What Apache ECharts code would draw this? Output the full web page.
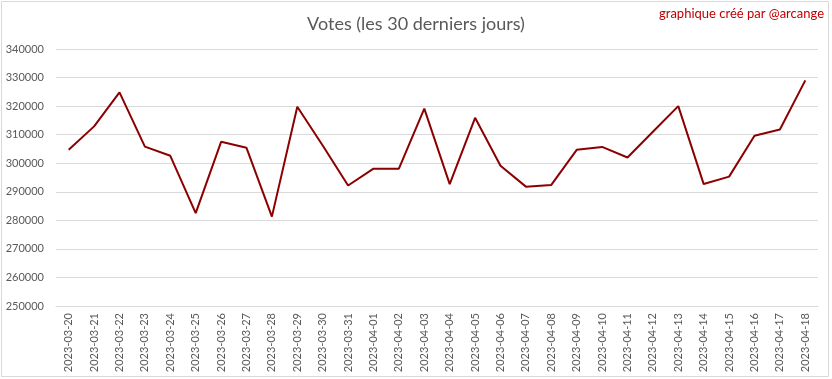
<!DOCTYPE html>
<html>
<head>
<meta charset="utf-8">
<script src="https://cdn.jsdelivr.net/npm/echarts@6/dist/echarts.min.js"></script>
<style>
html,body{margin:0;padding:0;background:#fff;}
#chart{width:832px;height:379px;}
</style>
</head>
<body>
<div id="chart"></div>
<script>
const dates = ["2023-03-20","2023-03-21","2023-03-22","2023-03-23","2023-03-24","2023-03-25","2023-03-26","2023-03-27","2023-03-28","2023-03-29","2023-03-30","2023-03-31","2023-04-01","2023-04-02","2023-04-03","2023-04-04","2023-04-05","2023-04-06","2023-04-07","2023-04-08","2023-04-09","2023-04-10","2023-04-11","2023-04-12","2023-04-13","2023-04-14","2023-04-15","2023-04-16","2023-04-17","2023-04-18"];
const votes = [304700,312900,324800,305800,302600,282500,307500,305400,281300,319800,306200,292200,298100,298100,319100,292700,315900,299100,291800,292400,304700,305700,302000,311000,320000,292700,295300,309600,311800,329000];
const titleText = "Votes (les 30 derniers jours)";
const creditText = "graphique créé par @arcange";
const yMin = 250000, yMax = 340000, yStep = 10000;

const chart = echarts.init(document.getElementById('chart'), null, {renderer:'canvas'});
chart.setOption({
  animation:false,
  backgroundColor:'#ffffff',
  graphic:[
    {type:'rect', shape:{x:1.5,y:1.5,width:827,height:375}, style:{fill:'none', stroke:'#d9d9d9', lineWidth:1}, silent:true},
    {type:'text', right:8, top:7, style:{text:creditText, fill:'#c00000', font:'13px Lato, "Open Sans", sans-serif'}}
  ],
  title:{
    text:titleText, left:'center', top:10,
    textStyle:{color:'#595959', fontSize:18, fontWeight:'normal', fontFamily:'Lato, "Open Sans", sans-serif'}
  },
  grid:{left:56, right:14, top:49, bottom:73, containLabel:false},
  xAxis:{
    type:'category', data:dates, boundaryGap:true,
    axisLine:{show:true, lineStyle:{color:'#d9d9d9', width:1}},
    axisTick:{show:false},
    axisLabel:{rotate:90, interval:0, margin:7, color:'#595959', fontSize:11, fontFamily:'Lato, "Open Sans", sans-serif'},
    splitLine:{show:false}
  },
  yAxis:{
    type:'value', min:yMin, max:yMax, interval:yStep,
    axisLine:{show:false}, axisTick:{show:false},
    axisLabel:{margin:12, color:'#595959', fontSize:11, fontFamily:'Lato, "Open Sans", sans-serif', formatter:function(v){return String(v);}},
    splitLine:{lineStyle:{color:'#d9d9d9', width:1}}
  },
  series:[{
    type:'line', data:votes, symbol:'none', smooth:false,
    lineStyle:{color:'#8b0000', width:2}, itemStyle:{color:'#8b0000'}
  }]
});
</script>
</body>
</html>
